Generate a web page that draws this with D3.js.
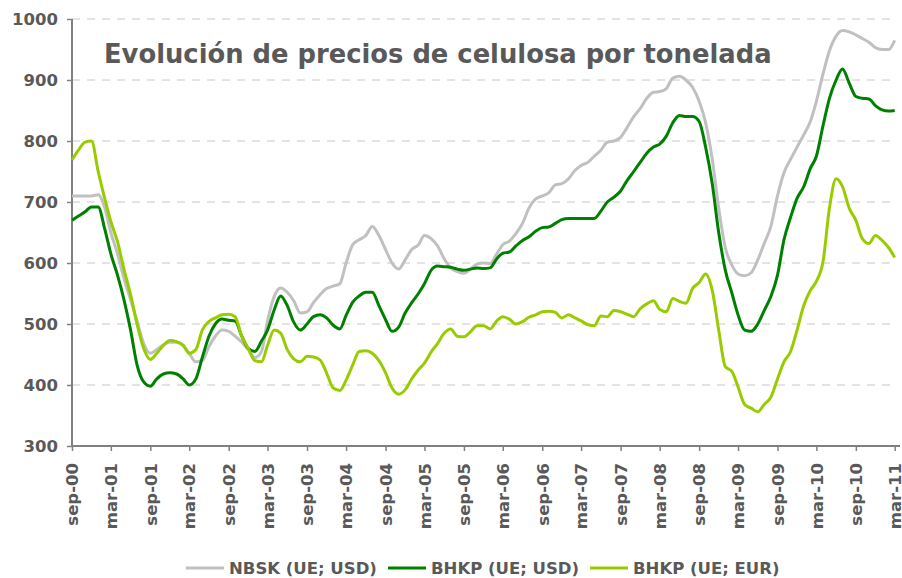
<!DOCTYPE html>
<html>
<head>
<meta charset="utf-8">
<script src="https://cdn.jsdelivr.net/npm/d3@7"></script>
<style>
  body { margin: 0; background: #fff; }
  text { font-family: "DejaVu Sans", Verdana, sans-serif; font-weight: bold; fill: #595959; }
</style>
</head>
<body>
<svg id="chart" width="902" height="578"></svg>
<script>
// Data (monthly, sep-00 .. mar-11)
const startMonth = new Date(2000, 8, 1)
const seriesNames = ["NBSK (UE; USD)", "BHKP (UE; USD)", "BHKP (UE; EUR)"]
const seriesColors = ["#c0c0c0", "#008000", "#99cc00"]

const nbskUsd = [
  710, 710, 710, 710, 712, 690, 650, 615, 575, 540, 505, 468, 452, 458, 466, 470, 470, 465, 452, 438,
  440, 463, 480, 490, 488, 480, 470, 458, 445, 455, 505, 545, 559, 552, 538, 518, 520, 535, 548, 558,
  562, 566, 600, 630, 638, 645, 660, 645, 622, 600, 590, 605, 622, 630, 645, 640, 628, 607, 592, 586,
  583, 590, 598, 600, 599, 615, 630, 636, 648, 665, 690, 705, 710, 715, 728, 730, 738, 752, 760, 765,
  775, 785, 798, 800, 806, 822, 840, 853, 870, 880, 881, 886, 903, 906, 900, 888, 865, 830, 770, 690,
  625, 596, 582, 579, 584, 605, 632, 660, 710, 748, 770, 790, 810, 832, 865, 910, 948, 972, 981, 979,
  974, 968, 962, 953, 950, 950, 965
]
const bhkpUsd = [
  670, 677, 684, 692, 692, 655, 615, 580, 540, 490, 433, 405, 398, 410, 418, 420, 418, 410, 400, 410,
  445, 480, 500, 508, 506, 505, 480, 460, 455, 472, 490, 523, 546, 530, 503, 490, 500, 512, 515, 510,
  498, 492, 514, 536, 546, 552, 552, 530, 507, 488, 495, 518, 535, 550, 566, 588, 595, 594, 593, 590,
  588, 590, 592, 591, 592, 607, 616, 618, 628, 637, 643, 652, 658, 659, 665, 671, 673, 673, 673, 673,
  673, 685, 700, 708, 718, 735, 750, 765, 780, 790, 795, 808, 830, 842, 840, 840, 832, 790, 730, 650,
  588, 550, 515, 490, 488, 500, 522, 545, 580, 638, 675, 706, 725, 755, 775, 825, 870, 900, 918, 895,
  873, 870, 869, 858, 851, 849, 850
]
const bhkpEur = [
  769, 785, 798, 800, 750, 705, 668, 635, 590, 548, 500, 460, 442, 452, 465, 473, 471, 465, 452, 458,
  490, 504, 510, 515, 516, 512, 480, 460, 440, 438, 465, 490, 485, 458, 443, 438, 447, 446, 441, 420,
  395, 391, 408, 433, 455, 456, 452, 440, 420, 395, 385, 392, 410, 425, 436, 454, 468, 485, 492, 480,
  479, 487, 497, 497, 492, 505, 512, 508, 500, 504, 511, 515, 520, 521, 519, 510, 515, 510, 505, 499,
  497, 513, 512, 522, 520, 516, 512, 525, 533, 538, 524, 520, 542, 537, 534, 558, 568, 582, 555, 490,
  430, 422, 397, 368, 362, 356, 368, 380, 410, 438, 455, 490, 530, 555, 570, 602, 690, 738, 725, 690,
  670, 640, 632, 645, 637, 625, 609
]
const yTicks = [300, 400, 500, 600, 700, 800, 900, 1000]
const shortMonths = ["ene", "feb", "mar", "abr", "may", "jun", "jul", "ago", "sep", "oct", "nov", "dic"]

const params = {
    "left": 72,
    "right": 894.7,
    "top": 19,
    "bottom": 446,
    "lineWidth": 3
}

const svg = d3.select("#chart")

const locale = d3.timeFormatLocale({
    dateTime: "%x %X", date: "%d/%m/%Y", time: "%H:%M:%S", periods: ["AM", "PM"],
    days: ["domingo", "lunes", "martes", "miércoles", "jueves", "viernes", "sábado"],
    shortDays: ["dom", "lun", "mar", "mié", "jue", "vie", "sáb"],
    months: ["enero", "febrero", "marzo", "abril", "mayo", "junio", "julio", "agosto", "septiembre", "octubre", "noviembre", "diciembre"],
    shortMonths: shortMonths
})
const fmt = locale.format("%b-%y")

const monthDate = i => d3.timeMonth.offset(startMonth, i)
const endMonth = monthDate(nbskUsd.length - 1)

const x = d3.scaleTime().domain([startMonth, endMonth]).range([params.left, params.right])
const y = d3.scaleLinear().domain([300, 1000]).range([params.bottom, params.top])

drawGrid()
drawAxes()
drawSeries([nbskUsd, bhkpUsd, bhkpEur])
drawTitle()
drawLegend()

function drawGrid(){
    svg.append("g")
        .selectAll("line")
        .data(yTicks.filter(t => t > 300))
        .join("line")
        .attr("x1", params.left)
        .attr("x2", 897)
        .attr("y1", d => y(d))
        .attr("y2", d => y(d))
        .attr("stroke", "#c8c8c8")
        .attr("stroke-width", 1)
        .attr("stroke-dasharray", "8,7")
}

function drawAxes(){
    // every 6 months starting at sep-00
    const xTicks = d3.range(0, nbskUsd.length, 6).map(monthDate)

    const gx = svg.append("g")
        .attr("transform", "translate(0," + params.bottom + ")")
        .call(d3.axisBottom(x).tickValues(xTicks).tickFormat(fmt).tickSize(5).tickSizeOuter(0))
    gx.select(".domain").remove()
    gx.selectAll(".tick line").attr("stroke", "#808080").attr("stroke-width", 1.5)
    gx.selectAll(".tick text")
        .attr("font-size", "16.5px")
        .attr("transform", "rotate(-90)")
        .attr("text-anchor", "end")
        .attr("x", -17)
        .attr("y", 0)
        .attr("dy", "0.35em")

    const gy = svg.append("g")
        .attr("transform", "translate(" + params.left + ",0)")
        .call(d3.axisLeft(y).tickValues(yTicks).tickFormat(d3.format("d")).tickSize(5).tickPadding(9).tickSizeOuter(0))
    gy.select(".domain").remove()
    gy.selectAll(".tick line").attr("stroke", "#808080").attr("stroke-width", 1.5)
    gy.selectAll(".tick text").attr("font-size", "16.5px")

    // axis lines
    svg.append("line")
        .attr("x1", params.left).attr("x2", 900)
        .attr("y1", params.bottom).attr("y2", params.bottom)
        .attr("stroke", "#808080").attr("stroke-width", 2)
    svg.append("line")
        .attr("x1", params.left).attr("x2", params.left)
        .attr("y1", params.top).attr("y2", params.bottom)
        .attr("stroke", "#808080").attr("stroke-width", 2)
}

function drawSeries(allSeries){
    const line = d3.line()
        .x((d, i) => x(monthDate(i)))
        .y(d => y(d))
        .curve(d3.curveMonotoneX)

    allSeries.forEach(function(values, index){
        svg.append("path")
            .datum(values)
            .attr("fill", "none")
            .attr("stroke", seriesColors[index])
            .attr("stroke-width", params.lineWidth)
            .attr("stroke-linejoin", "round")
            .attr("d", line)
    })
}

function drawTitle(){
    svg.append("text")
        .attr("x", 104)
        .attr("y", 63)
        .attr("font-size", "25.8px")
        .text("Evolución de precios de celulosa por tonelada")
}

function drawLegend(){
    const starts = [186, 388, 590]
    const legend = svg.append("g")
    seriesNames.forEach(function(name, i){
        legend.append("line")
            .attr("x1", starts[i]).attr("x2", starts[i] + 38)
            .attr("y1", 568).attr("y2", 568)
            .attr("stroke", seriesColors[i])
            .attr("stroke-width", params.lineWidth)
        legend.append("text")
            .attr("x", starts[i] + 43)
            .attr("y", 574)
            .attr("font-size", "16.5px")
            .text(name)
    })
}
</script>
</body>
</html>
